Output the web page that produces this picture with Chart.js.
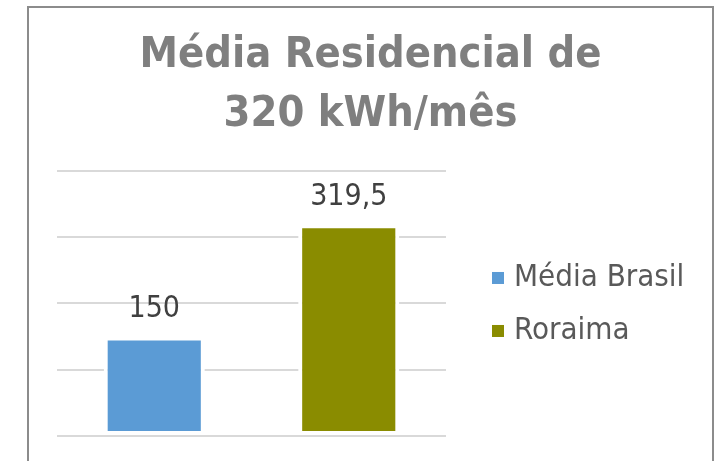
<!DOCTYPE html>
<html lang="pt-BR">
<head>
  <meta charset="UTF-8">
  <title>Média Residencial</title>
  <script src="https://cdn.jsdelivr.net/npm/chart.js"></script>
  <style>
    body {
      margin: 0;
      background: #fff;
      overflow: hidden;
      width: 715px;
      height: 461px;
    }
    #box {
      position: absolute;
      left: 27px;
      top: 6px;
      width: 683px;
      height: 470px;
      border: 2px solid #8c8c8c;
      border-bottom: none;
    }
    canvas {
      display: block;
    }
  </style>
</head>
<body>
  <div id="box">
    <canvas id="chart" width="683" height="453"></canvas>
  </div>

  <script>
    // values
    const categories = ['Média Brasil', 'Roraima'];
    const values = [150, 319.5];
    const barColors = ['#5B9BD5', '#8A8C00'];
    const titleLines = ['Média Residencial de', '320 kWh/mês'];
    const yMax = 400;
    const yStep = 100;

    const fontFamily = "'DejaVu Sans Condensed', 'DejaVu Sans', sans-serif";

    // value labels above the bars (pt-BR decimal comma)
    const valueLabels = {
      id: 'valueLabels',
      afterDatasetsDraw(chart) {
        const ctx = chart.ctx;
        const meta = chart.getDatasetMeta(0);
        ctx.save();
        ctx.font = '30px ' + fontFamily;
        ctx.fillStyle = '#404040';
        ctx.textAlign = 'center';
        ctx.textBaseline = 'middle';
        meta.data.forEach((bar, i) => {
          const txt = String(values[i]).replace('.', ',');
          ctx.fillText(txt, bar.x, bar.y - 27);
        });
        ctx.restore();
      }
    };

    // legend drawn to the right of the plot, like the excel one
    const sideLegend = {
      id: 'sideLegend',
      afterDraw(chart) {
        const ctx = chart.ctx;
        const area = chart.chartArea;
        const x = area.right + 46;
        const midY = (area.top + area.bottom) / 2;
        const step = 53;
        ctx.save();
        ctx.font = '31px ' + fontFamily;
        ctx.textBaseline = 'middle';
        ctx.textAlign = 'left';
        categories.forEach((c, i) => {
          const y = midY + (i - (categories.length - 1) / 2) * step + 1;
          ctx.fillStyle = barColors[i];
          ctx.fillRect(x, y - 6, 12, 12);
          ctx.fillStyle = '#595959';
          ctx.fillText(c, x + 22, y);
        });
        ctx.restore();
      }
    };

    const ctx = document.getElementById('chart').getContext('2d');
    new Chart(ctx, {
      type: 'bar',
      data: {
        labels: categories,
        datasets: [{
          data: values,
          backgroundColor: barColors,
          borderColor: '#ffffff',
          borderWidth: 4,
          borderSkipped: false,
          barPercentage: 0.52,
          categoryPercentage: 1
        }]
      },
      options: {
        responsive: false,
        animation: false,
        devicePixelRatio: 1,
        layout: {
          padding: { left: 0, right: 0, top: 0, bottom: 25 }
        },
        plugins: {
          title: {
            display: true,
            text: titleLines,
            color: '#7f7f7f',
            font: { family: fontFamily, size: 43, weight: 'bold', lineHeight: 1.36 },
            padding: { top: 19, bottom: 27 }
          },
          legend: { display: false },
          tooltip: { enabled: false }
        },
        scales: {
          x: {
            display: false
          },
          y: {
            min: 0,
            max: yMax,
            ticks: { display: false, stepSize: yStep },
            border: { display: false },
            grid: { color: '#d9d9d9', lineWidth: 2, drawTicks: false },
            afterFit(scale) { scale.width = 28; }
          },
          yR: {
            type: 'linear',
            position: 'right',
            display: true,
            ticks: { display: false },
            border: { display: false },
            grid: { display: false, drawTicks: false },
            afterFit(scale) { scale.width = 266; }
          }
        }
      },
      plugins: [valueLabels, sideLegend]
    });
  </script>
</body>
</html>
